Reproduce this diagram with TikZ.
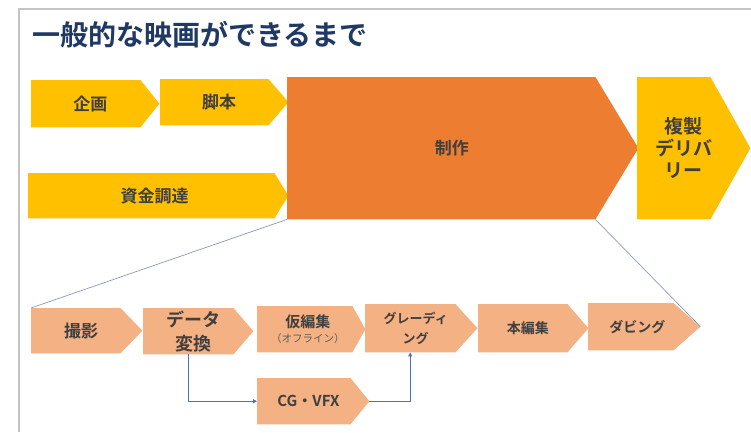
\documentclass[tikz,border=0pt]{standalone}
\usepackage{fontspec}
\setmainfont{Noto Sans CJK JP}[BoldFont={Noto Sans CJK JP Bold}]
\usetikzlibrary{arrows.meta,backgrounds}
\definecolor{ttl}{HTML}{1F3864}
\definecolor{ylw}{HTML}{FFC000}
\definecolor{org}{HTML}{ED7D31}
\definecolor{lorg}{HTML}{F4B183}
\definecolor{txt}{HTML}{3F3F3F}
\definecolor{frm}{HTML}{C4C4C4}
\definecolor{zoomln}{HTML}{8C9BB5}
\definecolor{conn}{HTML}{4A72C0}
\newcommand\fs[2]{\fontsize{#1}{#2}\selectfont}
\newcommand\pentbg[3]{%
  \begin{pgfonlayer}{background}
  \fill[#3] (#1.north west) -- ([xshift=-#2pt]#1.north east) -- ([xshift=#2pt]#1.east)
    -- ([xshift=-#2pt]#1.south east) -- (#1.south west) -- cycle;
  \end{pgfonlayer}}
\tikzset{
  pent/.style={inner sep=0pt, anchor=north west, text=txt, align=center, font=\bfseries},
  connln/.style={draw=conn, line width=0.8pt, -{Triangle[length=4pt,width=4pt]}},
  zoomline/.style={draw=zoomln, line width=0.7pt},
}
\begin{document}
\begin{tikzpicture}[x=1pt,y=-1pt]
\useasboundingbox (0,0) rectangle (751,432);
\begin{pgfonlayer}{background}
\fill[white] (0,0) rectangle (751,432);
\end{pgfonlayer}
\draw[frm, line width=1.5pt] (19,432) -- (19,9) -- (751,9);

\node[anchor=west, inner sep=0pt, font=\bfseries\fs{28}{30}, text=ttl] (title) at (32,35) {一般的な映画ができるまで};

% top row
\node[pent, minimum width=118.5pt, minimum height=47pt, font=\bfseries\fs{17}{20}] (kikaku) at (31,80) {企画};
\pentbg{kikaku}{9.5}{ylw}
\node[pent, minimum width=118pt, minimum height=46pt, font=\bfseries\fs{17}{20}] (kyaku) at (160,79) {脚本};
\pentbg{kyaku}{10}{ylw}
\node[pent, minimum width=253pt, minimum height=45pt, font=\bfseries\fs{17}{20}] (shikin) at (28,173) {資金調達};
\pentbg{shikin}{7}{ylw}
\node[pent, minimum width=329.5pt, minimum height=142pt, font=\bfseries\fs{17}{20}] (seisaku) at (287,77) {制作};
\pentbg{seisaku}{21.5}{org}
\node[pent, minimum width=93pt, minimum height=142pt, font=\bfseries\fs{19}{22}] (fukusei) at (637,77) {複製\\デリバ\\リー};
\pentbg{fukusei}{20}{ylw}

% bottom row
\node[pent, minimum width=100pt, minimum height=45pt, font=\bfseries\fs{17}{20}] (satsuei) at (31,308) {撮影};
\pentbg{satsuei}{11}{lorg}
\node[pent, minimum width=100pt, minimum height=46pt, font=\bfseries\fs{18}{24}] (data) at (143,308) {データ\\変換};
\pentbg{data}{10}{lorg}
\node[pent, minimum width=101.5pt, minimum height=46pt, font=\bfseries\fs{15}{15}] (kari) at (257,306) {仮編集\\{\mdseries\color{txt!85}\fs{10.5}{13}（オフライン）}};
\pentbg{kari}{6.5}{lorg}
\node[pent, minimum width=101pt, minimum height=48pt, font=\bfseries\fs{13}{20}] (grading) at (365,304) {グレーディ\\ング};
\pentbg{grading}{11}{lorg}
\node[pent, minimum width=99.5pt, minimum height=48pt, font=\bfseries\fs{14}{18}] (honhen) at (478,304) {本編集};
\pentbg{honhen}{10.5}{lorg}
\node[pent, minimum width=98.5pt, minimum height=47pt, font=\bfseries\fs{14}{18}] (dubbing) at (588,303) {ダビング};
\pentbg{dubbing}{13.5}{lorg}
\node[pent, minimum width=102.5pt, minimum height=46pt, font=\bfseries\fs{15}{18}] (cgvfx) at (257,378) {CG・VFX};
\pentbg{cgvfx}{9.5}{lorg}

\coordinate (dubtip) at ([xshift=13.5pt]dubbing.east);
\coordinate (cgtip) at ([xshift=9.5pt]cgvfx.east);
\coordinate (datadown) at ([xshift=-5pt]data.south);
\coordinate (gradup) at ([xshift=-5.5pt]grading.south);
\coordinate (seisakubr) at ([xshift=-21.5pt]seisaku.south east);

% zoom lines
\draw[zoomline] (seisaku.south west) -- (satsuei.north west);
\draw[zoomline] (seisakubr) -- (dubtip);

% connectors
\draw[connln] (datadown) |- (cgvfx.west);
\draw[connln] (cgtip) -| (gradup);
\end{tikzpicture}
\end{document}
